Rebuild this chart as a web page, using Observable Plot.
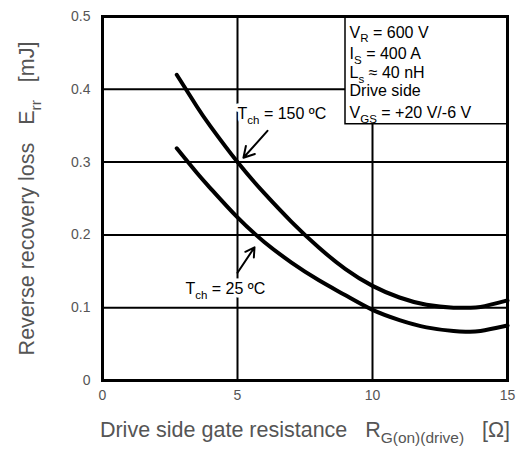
<!DOCTYPE html>
<html><head><meta charset="utf-8">
<script src="https://cdn.jsdelivr.net/npm/d3@7"></script>
<script src="https://cdn.jsdelivr.net/npm/@observablehq/plot@0.6"></script>
<style>
body{margin:0;background:#fff}
svg text{white-space:pre}
</style>
</head><body><div id="chart"></div>
<script>
// Data
const resistance150 = [2.75, 3.5, 4, 5, 6, 7, 8, 9, 10, 11, 12, 13, 13.5, 14, 15];
const loss150 = [0.42, 0.376, 0.349, 0.300, 0.257, 0.218, 0.183, 0.153, 0.130, 0.114, 0.104, 0.100, 0.100, 0.101, 0.110];
const resistance25 = [2.75, 3.5, 4, 5, 6, 7, 8, 9, 10, 11, 12, 13, 13.5, 14, 15];
const loss25 = [0.319, 0.285, 0.264, 0.224, 0.190, 0.162, 0.138, 0.117, 0.097, 0.083, 0.073, 0.068, 0.067, 0.068, 0.0755];
const xTicks = [0, 5, 10, 15];
const yTicks = [0, 0.1, 0.2, 0.3, 0.4, 0.5];
const yTickLabels = ["0", "0.1", "0.2", "0.3", "0.4", "0.5"];
const conditionLines = ["V_{R} = 600 V", "I_{S} = 400 A", "L_{s} ≈ 40 nH", "Drive side", "V_{GS} = +20 V/-6 V"];
const conditionY = [0.478, 0.449, 0.422, 0.398, 0.368];
const labels = ["T_{ch} = 150 ºC", "T_{ch} = 25 ºC"];
const labelX = [5.0, 3.07];
const labelY = [0.366, 0.126];
const arrowFrom = [[6.11, 0.343], [5.0, 0.148]];
const arrowTo = [[5.22, 0.306], [5.63, 0.183]];
const yTitle = "Reverse recovery loss   E_{rr}   [mJ]";
const xTitle = "Drive side gate resistance   R_{G(on)(drive)}   [Ω]";

const d150 = resistance150.map((r, i) => ({r, e: loss150[i]}));
const d25 = resistance25.map((r, i) => ({r, e: loss25[i]}));
const cond = conditionLines.map((t, i) => ({t, y: conditionY[i]}));
const ann = labels.map((t, i) => ({t, x: labelX[i], y: labelY[i]}));
const arrows = arrowFrom.map((f, i) => ({x1: f[0], y1: f[1], x2: arrowTo[i][0], y2: arrowTo[i][1]}));
const gray = "#555";

const plot = Plot.plot({
  width: 520, height: 450,
  marginLeft: 102, marginRight: 13, marginTop: 16, marginBottom: 70,
  style: {fontFamily: '"Liberation Sans", Arial, sans-serif', fontSize: "14px", background: "white"},
  x: {domain: [0, 15], ticks: xTicks, label: null},
  y: {domain: [0, 0.5], ticks: yTicks, label: null},
  marks: [
    Plot.gridX(xTicks, {stroke: "black", strokeOpacity: 1, strokeWidth: 2}),
    Plot.gridY(yTicks, {stroke: "black", strokeOpacity: 1, strokeWidth: 2}),
    Plot.rect([0], {x1: () => 9, x2: () => 15, y1: () => 0.352, y2: () => 0.5, fill: "white", stroke: "black", strokeWidth: 1.5}),
    Plot.line(d150, {x: "r", y: "e", stroke: "black", strokeWidth: 4, curve: "natural"}),
    Plot.line(d25, {x: "r", y: "e", stroke: "black", strokeWidth: 4, curve: "natural"}),
    Plot.text(ann, {x: "x", y: "y", text: "t", textAnchor: "start", fontSize: 16, fill: "black", stroke: "white", strokeWidth: 7}),
    Plot.arrow(arrows, {x1: "x1", y1: "y1", x2: "x2", y2: "y2", stroke: "black", strokeWidth: 2, headLength: 10}),
    Plot.text(cond, {x: () => 9.15, y: "y", text: "t", textAnchor: "start", fontSize: 16, fill: "black"}),
    Plot.axisX(xTicks, {tickSize: 0, tickPadding: 10, fill: gray, fontSize: 14, label: null}),
    Plot.axisY(yTicks, {tickSize: 0, tickPadding: 12, fill: gray, fontSize: 14, label: null,
      tickFormat: d => yTickLabels[yTicks.indexOf(d)]}),
    Plot.text([yTitle], {frameAnchor: "left", textAnchor: "middle", dx: -75, rotate: -90, fontSize: 21.5, fill: gray}),
    Plot.text([xTitle], {frameAnchor: "bottom", textAnchor: "middle", dy: 56, fontSize: 21.5, fill: gray}),
    Plot.frame({stroke: "black", strokeWidth: 3})
  ]
});
document.getElementById("chart").appendChild(plot);

// Convert "_{...}" markup into subscript tspans
const NS = "http://www.w3.org/2000/svg";
plot.querySelectorAll("text").forEach(el => {
  const s = el.textContent;
  if (!s.includes("_{")) return;
  const fs = parseFloat(getComputedStyle(el).fontSize) || 14;
  const parts = s.split(/_\{([^}]*)\}/);
  el.textContent = "";
  let cur = 0;
  parts.forEach((p, i) => {
    if (!p) return;
    const sub = i % 2 === 1;
    const t = document.createElementNS(NS, "tspan");
    t.textContent = p;
    const want = sub ? fs * 0.3 : 0;
    if (want !== cur) t.setAttribute("dy", want - cur);
    cur = want;
    if (sub) t.setAttribute("font-size", fs * 0.72);
    el.appendChild(t);
  });
});
</script>
</body></html>
